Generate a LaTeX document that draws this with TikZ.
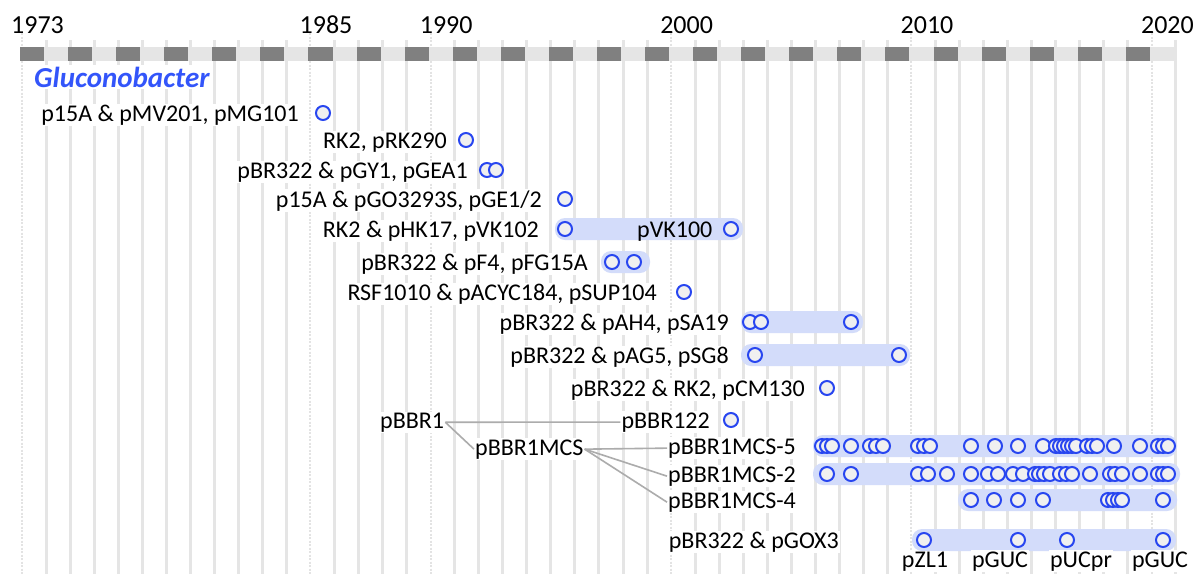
\documentclass[tikz,border=0pt]{standalone}
\usepackage{fontspec}
\setmainfont{Carlito}
\definecolor{bandblue}{RGB}{211,220,250}
\definecolor{dotblue}{RGB}{40,70,240}
\definecolor{dotfill}{RGB}{240,240,240}
\definecolor{genusblue}{RGB}{51,85,250}
\tikzset{
  yearline/.style={gray!20, line width=3pt},
  decadeline/.style={gray!22, line width=2pt, dash pattern=on 2pt off 1.5pt},
  yearlab/.style={inner sep=0pt, font=\fontsize{26}{30}\selectfont},
  hit/.style={circle, draw=dotblue, fill=dotfill, line width=2pt, minimum size=14pt, inner sep=0pt},
  bandfill/.style={fill=bandblue, rounded corners=10pt},
  plasmid/.style={fill=white, inner sep=1pt, font=\fontsize{24}{28}\selectfont},
  treeline/.style={gray!65, line width=1.6pt},
}
\begin{document}
\begin{tikzpicture}[x=1pt,y=-1pt]
  \useasboundingbox[fill=white] (0,0) rectangle (1199,574);
  \foreach \k in {1,...,11,13,14,15,16,18,19,...,26,28,29,...,36,38,39,...,46,48}
    \draw[yearline] ({22+24.04*\k},40) -- ({22+24.04*\k},574);
  \foreach \k in {0,12,17,27,37,47}
    \draw[decadeline] ({22+24.04*\k},33) -- ({22+24.04*\k},574);
  \foreach \k in {0,...,47}{
    \ifodd\k \def\barcol{gray!20}\else \def\barcol{gray}\fi
    \fill[\barcol] ({20+24.04*\k},47) rectangle ({20+24.04*(\k+1)},61);
  }
  \foreach \yr/\k in {1973/0,1985/12,1990/17,2000/27,2010/37,2020/47}
    \node[yearlab, anchor=base west] (y\yr) at ({11+24.04*\k},33) {\yr};

  \node[anchor=base west, fill=white, inner sep=2pt, text=genusblue,
        font=\fontsize{29}{34}\selectfont\bfseries\itshape] (genus) at (32,87) {Gluconobacter};

  % bands
  \fill[bandfill] (555,218) rectangle (743,240);
  \fill[bandfill] (601,251) rectangle (650,273);
  \fill[bandfill] (741,311) rectangle (863,333);
  \fill[bandfill] (741,344) rectangle (910,366);
  \fill[bandfill] (813,435) rectangle (1177,457);
  \fill[bandfill] (813,463) rectangle (1180,485);
  \fill[bandfill] (958,489) rectangle (1177,511);
  \fill[bandfill] (912,529) rectangle (1176,551);

  % labels
  \node[plasmid, anchor=base east] (r1) at (300,121) {p15A \& pMV201, pMG101};
  \node[plasmid, anchor=base east] (r2) at (448,148) {RK2, pRK290};
  \node[plasmid, anchor=base east] (r3) at (469,178) {pBR322 \& pGY1, pGEA1};
  \node[plasmid, anchor=base east] (r4) at (543,207) {p15A \& pGO3293S, pGE1/2};
  \node[plasmid, anchor=base east] (r5) at (540,237) {RK2 \& pHK17, pVK102};
  \node[plasmid, anchor=base east] (r6) at (589,270) {pBR322 \& pF4, pFG15A};
  \node[plasmid, anchor=base east] (r7) at (658,300) {RSF1010 \& pACYC184, pSUP104};
  \node[plasmid, anchor=base east] (r8) at (730,330) {pBR322 \& pAH4, pSA19};
  \node[plasmid, anchor=base east] (r9) at (730,363) {pBR322 \& pAG5, pSG8};
  \node[plasmid, anchor=base east] (r10) at (806,396) {pBR322 \& RK2, pCM130};
  \node[plasmid, anchor=base east] (bbr122) at (711,428) {pBBR122};
  \node[plasmid, anchor=base west] (bbr1) at (379,428) {pBBR1};
  \node[plasmid, anchor=base west] (mcs) at (474,455) {pBBR1MCS};
  \node[plasmid, anchor=base west] (mcs5) at (667,454) {pBBR1MCS-5};
  \node[plasmid, anchor=base west] (mcs2) at (667,482) {pBBR1MCS-2};
  \node[plasmid, anchor=base west] (mcs4) at (667,508) {pBBR1MCS-4};
  \node[plasmid, anchor=base east] (gox) at (840,548) {pBR322 \& pGOX3};
  \node[plasmid, fill=none, anchor=base west] (vk100) at (636,237) {pVK100};
  \node[plasmid, anchor=base] (zl1) at (925,567) {pZL1};
  \node[plasmid, anchor=base] (guc1) at (1000,567) {pGUC};
  \node[plasmid, anchor=base] (ucpr) at (1081,567) {pUCpr};
  \node[plasmid, anchor=base] (guc2) at (1160,567) {pGUC};

  \draw[treeline] (bbr1.east) -- (bbr122.west);
  \draw[treeline] (bbr1.east) -- (mcs.west);
  \draw[treeline] (mcs.east) -- (mcs5.west);
  \draw[treeline] (mcs.east) -- (mcs2.west);
  \draw[treeline] (mcs.east) -- (mcs4.west);

  % hits
  \node[hit] (h1) at (323,113) {};
  \node[hit] (h2) at (466,140) {};
  \node[hit] (h3a) at (487,170) {};
  \node[hit] (h3b) at (496,170) {};
  \node[hit] (h4) at (565,199) {};
  \node[hit] (h5a) at (565,229) {};
  \node[hit] (h5b) at (731,229) {};
  \node[hit] (h6a) at (612,262) {};
  \node[hit] (h6b) at (634,262) {};
  \node[hit] (h7) at (684,292) {};
  \node[hit] (h8a) at (750,322) {};
  \node[hit] (h8b) at (761,322) {};
  \node[hit] (h8c) at (851,322) {};
  \node[hit] (h9a) at (755,355) {};
  \node[hit] (h9b) at (899,355) {};
  \node[hit] (h10) at (827,388) {};
  \node[hit] (h11) at (731,420) {};
  \foreach \x [count=\i] in {822,827,832,851,870,876,883,918,924,930,971,995,1018,1043,1056,1060,1064,1068,1072,1076,1087,1092,1097,1114,1140,1158,1163,1168}
    \node[hit] (m5-\i) at (\x,446) {};
  \foreach \x [count=\i] in {827,851,918,928,947,971,988,998,1013,1023,1035,1039,1044,1050,1060,1066,1072,1090,1110,1115,1122,1140,1158,1163,1168}
    \node[hit] (m2-\i) at (\x,474) {};
  \foreach \x [count=\i] in {971,994,1018,1043,1108,1113,1118,1122,1163}
    \node[hit] (m4-\i) at (\x,500) {};
  \foreach \x [count=\i] in {924,1018,1067,1163}
    \node[hit] (g-\i) at (\x,540) {};
\end{tikzpicture}
\end{document}
